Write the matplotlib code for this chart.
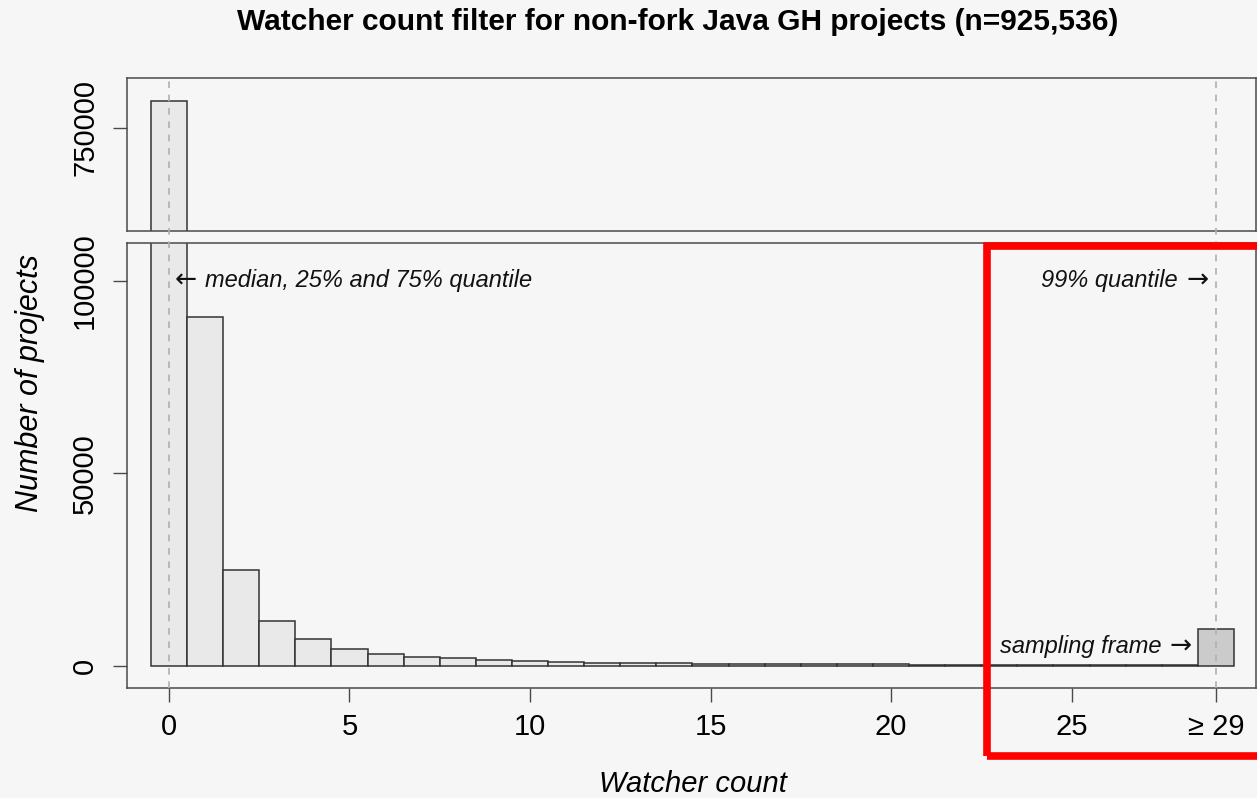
import matplotlib
matplotlib.use("Agg")
import matplotlib.pyplot as plt
import matplotlib.transforms as mtransforms
from matplotlib.lines import Line2D
from matplotlib.patches import Rectangle

plt.rcParams['font.family'] = ['Liberation Sans', 'DejaVu Sans']

# watcher count bins (last bin collects everything >= 29)
watchers = list(range(30))
counts = [760200, 90700, 24900, 11550, 6850, 4430, 3050, 2350, 1900, 1500,
          1230, 980, 820, 700, 610, 540, 480, 430, 390, 350,
          320, 290, 270, 250, 230, 210, 200, 190, 180, 9460]
x_ticks = [0, 5, 10, 15, 20, 25, 29]
x_tick_labels = ['0', '5', '10', '15', '20', '25', '≥ 29']
top_y_ticks = [750000]
bot_y_ticks = [0, 50000, 100000]
quantile_x = [0, 29]

BG = '#f6f6f6'
FRAME = '#4a4a4a'
INK = '#111111'
W, H = 1257, 798


def fx(px):
    return px / W


def fy(py):
    return 1 - py / H


fig = plt.figure(figsize=(W / 100, H / 100), dpi=100)
fig.patch.set_facecolor(BG)

ax_top = fig.add_axes([fx(127), fy(231), fx(1256) - fx(127), fy(78) - fy(231)])
ax_bot = fig.add_axes([fx(127), fy(688.3), fx(1256) - fx(127), fy(243) - fy(688.3)])

bar_colors = ['#e9e9e9'] * (len(watchers) - 1) + ['#cbcbcb']
for ax in (ax_top, ax_bot):
    ax.bar(watchers, counts, width=1.0, color=bar_colors, edgecolor='#333333',
           linewidth=1.1, zorder=2)
    ax.set_xlim(-1.163, 30.11)
    ax.set_facecolor('none')
    for sp in ax.spines.values():
        sp.set_color(FRAME)
        sp.set_linewidth(1.1)
    ax.tick_params(direction='out', length=10, width=1, color=FRAME,
                   labelsize=21, pad=8)
    ax.tick_params(axis='y', pad=10)

# broken y axis: top panel only shows the tip of the zero bar
ax_top.set_ylim(711000, 768900)
ax_top.set_xticks([])
ax_top.set_yticks(top_y_ticks)
ax_top.set_yticklabels([str(v) for v in top_y_ticks], rotation=90, va='center')

ax_bot.set_ylim(-5870, 109850)
ax_bot.set_yticks(bot_y_ticks)
ax_bot.set_yticklabels([str(v) for v in bot_y_ticks], rotation=90, va='center')
ax_bot.set_xticks(x_ticks)
ax_bot.set_xticklabels(x_tick_labels)

# dashed quantile markers running through both panels
trans = mtransforms.blended_transform_factory(ax_bot.transData, fig.transFigure)
for q in quantile_x:
    fig.lines.append(Line2D([q, q], [fy(688.3), fy(78)], transform=trans,
                            color='#b0b0b0', linewidth=1.2, dashes=(4, 4),
                            zorder=5))

# annotations: label text and its arrow drawn separately
note = dict(fontsize=17, style='italic', va='center', color=INK)
arrow = dict(fontsize=19, family='DejaVu Sans', va='center', color=INK)
ax_bot.text(0.15, 100000, '←', ha='left', **arrow)
ax_bot.text(1.0, 100000, 'median, 25% and 75% quantile', ha='left', **note)
ax_bot.text(27.95, 100000, '99% quantile', ha='right', **note)
ax_bot.text(28.8, 100000, '→', ha='right', **arrow)
ax_bot.text(27.5, 5100, 'sampling frame', ha='right', **note)
ax_bot.text(28.33, 5100, '→', ha='right', **arrow)

fig.text(fx(678), fy(22), 'Watcher count filter for non-fork Java GH projects (n=925,536)',
         fontsize=21.5, fontweight='bold', ha='center', va='center')
fig.text(fx(30), fy(383), 'Number of projects', fontsize=22, style='italic',
         rotation=90, ha='center', va='center')
fig.text(fx(693), fy(784), 'Watcher count', fontsize=21, style='italic',
         ha='center', va='center')

# highlight box around the tail of the distribution
fig.patches.append(Rectangle((fx(987), fy(756)), fx(1290) - fx(987), fy(245.5) - fy(756),
                             transform=fig.transFigure, fill=False,
                             edgecolor='#ff0000', linewidth=5.5, zorder=10))

fig.savefig('out.png', dpi=100, facecolor=BG)
